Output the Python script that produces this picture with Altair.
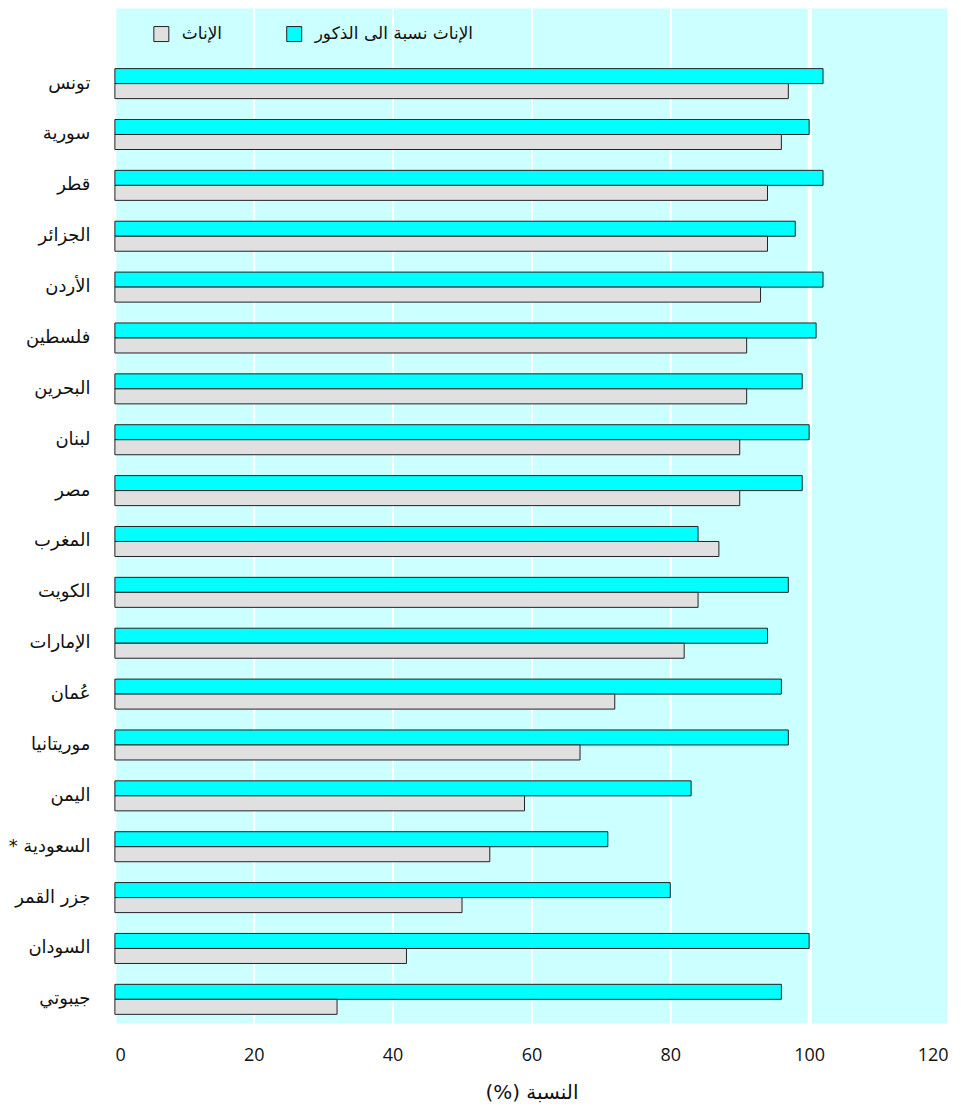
import altair as alt
import pandas as pd

RLM = "\u200f"

countries = ["تونس", "سورية", "قطر", "الجزائر", "الأردن", "فلسطين", "البحرين",
             "لبنان", "مصر", "المغرب", "الكويت", "الإمارات", "عُمان", "موريتانيا",
             "اليمن", "السعودية *" + RLM, "جزر القمر", "السودان", "جيبوتي"]
ratio = [102, 100, 102, 98, 102, 101, 99, 100, 99, 84, 97, 94, 96, 97, 83, 71, 80, 100, 96]
female = [97, 96, 94, 94, 93, 91, 91, 90, 90, 87, 84, 82, 72, 67, 59, 54, 50, 42, 32]

RATIO = "الإناث نسبة الى الذكور"
FEMALE = "الإناث"
X_TITLE = "النسبة (%)" + RLM
x_ticks = [0, 20, 40, 60, 80, 100, 120]

rows = []
for c, r, f in zip(countries, ratio, female):
    rows.append({"country": c, "series": RATIO, "value": r})
    rows.append({"country": c, "series": FEMALE, "value": f})
df = pd.DataFrame(rows)

AR_FONT = "DejaVu Sans"

chart = alt.Chart(df).mark_bar(stroke="#222222", strokeWidth=1).encode(
    x=alt.X(
        "value:Q",
        scale=alt.Scale(domain=[0, 120], nice=False),
        axis=alt.Axis(
            values=x_ticks, grid=True, gridColor="white",
            gridWidth={"condition": {"test": "datum.value === 100", "value": 4}, "value": 2},
            ticks=False, domain=False, labelPadding=23, labelFontSize=18,
            labelFont="Open Sans", labelColor="#111111",
            title=X_TITLE, titleFont=AR_FONT, titleFontSize=20,
            titleFontWeight="normal", titlePadding=18, titleColor="#111111",
        ),
    ),
    y=alt.Y(
        "country:N",
        scale=alt.Scale(domain=[""] + countries, paddingInner=0.41, paddingOuter=0.18),
        axis=alt.Axis(
            title=None, ticks=False, domain=False, grid=False, labelPadding=25,
            labelFontSize=18, labelFont=AR_FONT, labelColor="#111111",
        ),
    ),
    yOffset=alt.YOffset(
        "series:N",
        scale=alt.Scale(domain=[RATIO, FEMALE], paddingInner=0, paddingOuter=0),
    ),
    color=alt.Color(
        "series:N",
        scale=alt.Scale(domain=[RATIO, FEMALE], range=["#00FFFF", "#E0E0E0"]),
        legend=alt.Legend(
            title=None, orient="none", legendX=38, legendY=17, direction="horizontal",
            values=[FEMALE, RATIO], symbolType="square", symbolSize=225,
            symbolStrokeColor="#222222", symbolStrokeWidth=1, symbolOpacity=1,
            labelFontSize=17, labelFont=AR_FONT, labelColor="#111111",
            labelOffset=12, columnPadding=62, labelLimit=400,
        ),
    ),
).properties(
    width=834, height=1016, padding={"left": 0, "top": 0, "right": 5, "bottom": 5}
).configure_view(stroke=None, fill="#CCFFFF")

chart.save("out.html", embed_options={"renderer": "svg", "actions": False})
